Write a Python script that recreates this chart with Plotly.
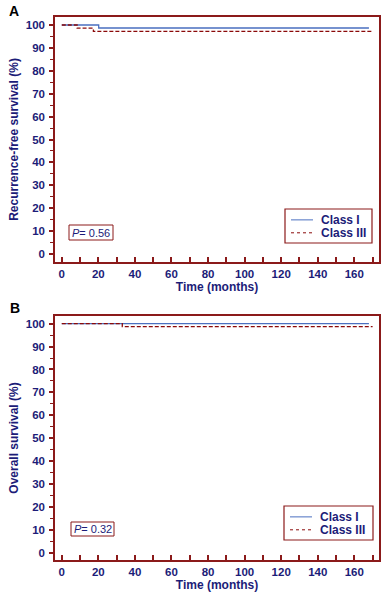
import plotly.graph_objects as go

# ---- data ----
time_a_class1 = [0, 20.2, 168]
surv_a_class1 = [100, 98.7, 98.7]
time_a_class3 = [0, 8.4, 17.3, 170]
surv_a_class3 = [100, 98.6, 97.2, 97.2]

time_b_class1 = [0, 168]
surv_b_class1 = [100, 100]
time_b_class3 = [0, 33.1, 170]
surv_b_class3 = [100, 98.7, 98.7]

x_ticks = [0, 20, 40, 60, 80, 100, 120, 140, 160]
y_ticks = [0, 10, 20, 30, 40, 50, 60, 70, 80, 90, 100]
series_names = ["Class I", "Class III"]
y_titles = ["Recurrence-free survival (%)", "Overall survival (%)"]
p_texts = ["<i>P</i>= 0.56", "<i>P</i>= 0.32"]
panel_labels = ["A", "B"]

W, H = 385, 594
NAVY = "#1c1c78"
FRAME = "#8b1a1a"
BLUE = "#4a6fc0"
RED = "#8b0a0a"
FONT = "Liberation Sans"

fig = go.Figure()

panels = [
    dict(top=17, bottom=262, t1=time_a_class1, s1=surv_a_class1, t3=time_a_class3, s3=surv_a_class3,
         yr=[-3.5, 103.5], xs="x", ys="y", leg=dict(l=285, r=372, t=209, b=243), pbox=dict(l=69, r=113, t=225, b=240),
         label_x=14, label_y=11),
    dict(top=316, bottom=560, t1=time_b_class1, s1=surv_b_class1, t3=time_b_class3, s3=surv_b_class3,
         yr=[-3.0, 103.3], xs="x2", ys="y2", leg=dict(l=284, r=373, t=506, b=540), pbox=dict(l=71, r=114, t=522, b=536),
         label_x=14.5, label_y=308),
]

x_left, x_right = 55, 379
xr = [-3.7, 173.5]

def px(x):
    return x / W

def py(y):
    return 1 - y / H

shapes = []
annotations = []

for i, p in enumerate(panels):
    sfx = "" if i == 0 else "2"
    fig.add_trace(go.Scatter(x=p["t1"], y=p["s1"], mode="lines", line=dict(color=BLUE, width=1.3, shape="hv"),
                             xaxis=p["xs"], yaxis=p["ys"], showlegend=False, name=series_names[0]))
    fig.add_trace(go.Scatter(x=p["t3"], y=p["s3"], mode="lines", line=dict(color=RED, width=1.3, shape="hv", dash="4px,2px"),
                             xaxis=p["xs"], yaxis=p["ys"], showlegend=False, name=series_names[1]))
    axis_common = dict(showgrid=False, zeroline=False, showline=True, linecolor=FRAME, linewidth=1.5, mirror=True,
                       tickfont=dict(family=FONT, size=11.5, color=NAVY, weight="bold"))
    fig.layout["xaxis" + sfx] = dict(
        **axis_common, domain=[px(x_left), px(x_right)], range=xr, anchor="y" + sfx,
        tickmode="array", tickvals=x_ticks, ticks="inside", ticklen=5, tickcolor=FRAME, tickwidth=1.5,
        minor=dict(dtick=10, tick0=0, ticks="inside", ticklen=5, tickcolor=FRAME, tickwidth=1.5),
        title=dict(text="<b>Time (months)</b>", font=dict(family=FONT, size=12, color=NAVY), standoff=4),
    )
    fig.layout["yaxis" + sfx] = dict(
        **axis_common, domain=[py(p["bottom"]), py(p["top"])], range=p["yr"], anchor="x" + sfx,
        tickmode="array", tickvals=y_ticks, ticks="outside", ticklen=4, tickcolor=FRAME, tickwidth=1.5,
        minor=dict(dtick=5, tick0=0, ticks="outside", ticklen=3, tickcolor=FRAME, tickwidth=1),
        ticklabelstandoff=2,
        title=dict(text="<b>" + y_titles[i] + "</b>", font=dict(family=FONT, size=12, color=NAVY), standoff=5),
    )
    annotations.append(dict(x=px(p["label_x"]), y=py(p["label_y"]), xref="paper", yref="paper",
                            text="<b>" + panel_labels[i] + "</b>",
                            showarrow=False, font=dict(family=FONT, size=14, color="black"), xanchor="center", yanchor="middle"))
    lg = p["leg"]
    shapes.append(dict(type="rect", xref="paper", yref="paper", x0=px(lg["l"]), x1=px(lg["r"]), y0=py(lg["b"]), y1=py(lg["t"]),
                       line=dict(color=FRAME, width=1.2), fillcolor="white"))
    rows = [lg["t"] + (lg["b"] - lg["t"]) * 0.32, lg["t"] + (lg["b"] - lg["t"]) * 0.70]
    for j, (col, dash) in enumerate([(BLUE, "solid"), (RED, "dot")]):
        shapes.append(dict(type="line", xref="paper", yref="paper", x0=px(lg["l"] + 6), x1=px(lg["l"] + 28),
                           y0=py(rows[j]), y1=py(rows[j]), line=dict(color=col, width=1, dash=dash)))
        annotations.append(dict(x=px(lg["l"] + 34), y=py(rows[j]), xref="paper", yref="paper", text="<b>" + series_names[j] + "</b>",
                                showarrow=False, font=dict(family=FONT, size=12, color=NAVY), xanchor="left", yanchor="middle"))
    pb = p["pbox"]
    shapes.append(dict(type="rect", xref="paper", yref="paper", x0=px(pb["l"]), x1=px(pb["r"]), y0=py(pb["b"]), y1=py(pb["t"]),
                       line=dict(color=FRAME, width=1), fillcolor="white"))
    annotations.append(dict(x=px((pb["l"] + pb["r"]) / 2), y=py((pb["t"] + pb["b"]) / 2), xref="paper", yref="paper",
                            text=p_texts[i], showarrow=False, font=dict(family=FONT, size=11, color=NAVY),
                            xanchor="center", yanchor="middle"))

fig.update_layout(width=W, height=H, margin=dict(l=0, r=0, t=0, b=0), paper_bgcolor="white", plot_bgcolor="white",
                  shapes=shapes, annotations=annotations, showlegend=False)
fig.write_html("out.html", config={"displayModeBar": False},
               post_script="document.body.style.margin='0';document.body.style.overflow='hidden';")
